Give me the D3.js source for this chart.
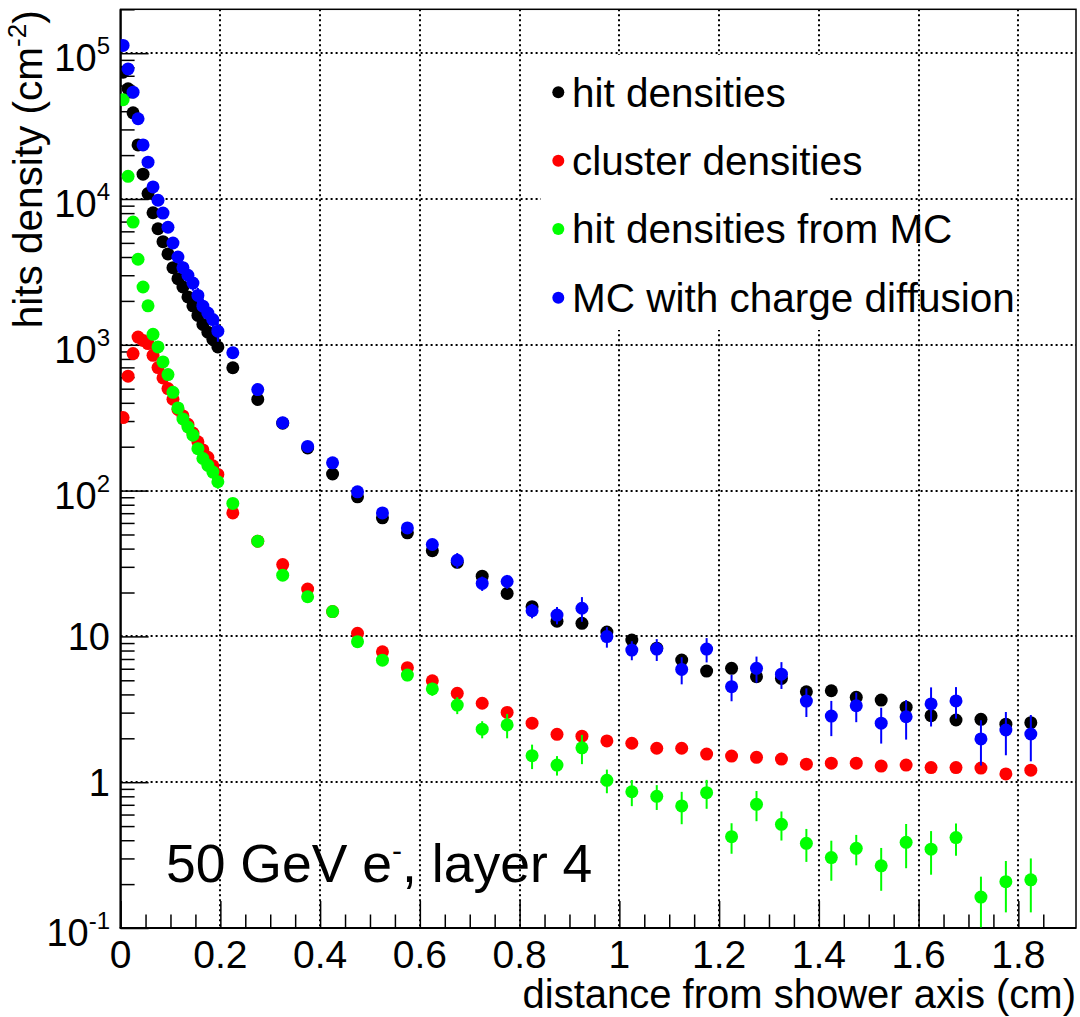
<!DOCTYPE html>
<html>
<head>
<meta charset="utf-8">
<script src="https://cdn.jsdelivr.net/npm/d3@7"></script>
<style>
  html, body { margin: 0; padding: 0; background: #fff; }
  svg text { font-family: "Liberation Sans", Arial, Helvetica, sans-serif; fill: #000; }
</style>
</head>
<body>
<svg id="chart" width="1080" height="1017"></svg>
<script>
// Bin centres (cm): 0.01 cm bins up to 0.2, then 0.05 cm bins
const binCenters = [
  0.005, 0.015, 0.025, 0.035, 0.045, 0.055, 0.065, 0.075, 0.085, 0.095,
  0.105, 0.115, 0.125, 0.135, 0.145, 0.155, 0.165, 0.175, 0.185, 0.195,
  0.225, 0.275, 0.325, 0.375, 0.425, 0.475, 0.525, 0.575, 0.625, 0.675,
  0.725, 0.775, 0.825, 0.875, 0.925, 0.975, 1.025, 1.075, 1.125, 1.175,
  1.225, 1.275, 1.325, 1.375, 1.425, 1.475, 1.525, 1.575, 1.625, 1.675,
  1.725, 1.775, 1.825
];

// hit densities (data)
const hitDensity = [
  74000, 57000, 39000, 23500, 14800, 10900, 8050, 6250, 5100, 4200,
  3380, 2840, 2490, 2130, 1850, 1590, 1380, 1220, 1090, 967,
  696, 422, 290, 196, 130, 90.6, 65, 51.3, 38.7, 32.2,
  25.9, 19.7, 16.0, 12.7, 12.3, 10.7, 9.45, 8.3, 6.89, 5.78,
  6.04, 5.29, 5.15, 4.17, 4.24, 3.82, 3.66, 3.27, 2.86, 2.67,
  2.70, 2.50, 2.56
];

// cluster densities (data)
const clusterDensity = [
  317, 609, 871, 1130, 1070, 1020, 847, 698, 593, 501,
  423, 360, 325, 285, 248, 216, 190, 169, 148, 129,
  70.3, 45, 31.1, 21.1, 14.8, 10.5, 7.84, 6.1, 4.96, 4.07,
  3.48, 3.01, 2.54, 2.13, 2.07, 1.92, 1.85, 1.71, 1.71, 1.56,
  1.51, 1.48, 1.44, 1.33, 1.35, 1.35, 1.29, 1.31, 1.26, 1.26,
  1.25, 1.14, 1.21
];

// hit densities from MC
const mcDensity = [
  48000, 14300, 6950, 3860, 2490, 1850, 1180, 967, 763, 625,
  472, 369, 310, 273, 240, 194, 166, 149, 134, 115,
  81.7, 45, 26.3, 18.7, 14.8, 9.2, 6.87, 5.43, 4.36, 3.38,
  2.31, 2.47, 1.52, 1.31, 1.72, 1.03, 0.86, 0.80, 0.687, 0.847,
  0.423, 0.705, 0.514, 0.381, 0.304, 0.352, 0.267, 0.387, 0.347, 0.417,
  0.163, 0.208, 0.214
];
const mcDensityErr = [
  600, 300, 200, 140, 110, 90, 70, 60, 50, 45,
  38, 32, 28, 25, 22, 19, 17, 15, 14, 12,
  4, 2.5, 1.8, 1.4, 1.2, 0.8, 0.6, 0.5, 0.45, 0.45,
  0.31, 0.47, 0.29, 0.2, 0.39, 0.19, 0.175, 0.155, 0.172, 0.19,
  0.1, 0.165, 0.116, 0.097, 0.093, 0.083, 0.087, 0.13, 0.115, 0.104,
  0.062, 0.08, 0.086
];

// MC with charge diffusion
const mcDiffDensity = [
  113000, 78000, 54000, 35500, 23500, 17900, 12100, 9800, 8000, 6400,
  4990, 4000, 3380, 3000, 2650, 2180, 1840, 1650, 1490, 1240,
  882, 493, 292, 201, 155, 98, 70.3, 55.5, 42.7, 33.3,
  23.1, 23.8, 15.0, 14.0, 15.6, 9.97, 8.06, 8.18, 5.94, 8.18,
  4.52, 6.04, 5.51, 3.6, 2.84, 3.35, 2.54, 2.81, 3.44, 3.61,
  1.98, 2.28, 2.14
];
const mcDiffDensityErr = [
  2500, 2000, 1600, 1300, 1000, 850, 700, 600, 550, 480,
  420, 380, 340, 320, 300, 270, 240, 220, 210, 190,
  15, 10, 8, 6, 5, 4, 3.5, 3, 3, 4,
  2.6, 2.6, 1.7, 1.9, 3.0, 1.6, 1.2, 1.4, 1.25, 1.55,
  0.93, 1.23, 1.15, 0.8, 0.77, 0.77, 0.7, 0.85, 1.03, 0.88,
  0.68, 0.75, 0.75
];

const seriesNames = ["hit densities", "cluster densities", "hit densities from MC", "MC with charge diffusion"];
const seriesColors = ["#000000", "#ff0000", "#00ff00", "#0000ff"];

const xMajorTicks = [0, 0.2, 0.4, 0.6, 0.8, 1.0, 1.2, 1.4, 1.6, 1.8];
const xTickLabels = ["0", "0.2", "0.4", "0.6", "0.8", "1", "1.2", "1.4", "1.6", "1.8"];
const yMajorTicks = [0.1, 1, 10, 100, 1000, 10000, 100000];
const yTickLabels = [["10", "-1"], ["1", ""], ["10", ""], ["10", "2"], ["10", "3"], ["10", "4"], ["10", "5"]];

// ---- layout ----
const frame = { left: 120.6, right: 1076, top: 9.3, bottom: 928 };
const svg = d3.select("#chart");

const x = d3.scaleLinear().domain([0, 1.9156]).range([frame.left, frame.right]);
const y = d3.scaleLog().domain([0.1, 2e5]).range([frame.bottom, frame.top]);

svg.append("defs").append("clipPath").attr("id", "plotClip")
  .append("rect")
  .attr("x", frame.left).attr("y", frame.top)
  .attr("width", frame.right - frame.left).attr("height", frame.bottom - frame.top);

// ---- dotted grid ----
const grid = svg.append("g").attr("stroke", "#000").attr("stroke-width", 2)
  .attr("stroke-dasharray", "2,3").attr("fill", "none");
grid.selectAll("line.gx").data(xMajorTicks.filter(d => d > 0)).join("line")
  .attr("x1", d => Math.round(x(d))).attr("x2", d => Math.round(x(d)))
  .attr("y1", frame.top).attr("y2", frame.bottom);
grid.selectAll("line.gy").data(yMajorTicks.filter(d => d > 0.1)).join("line")
  .attr("x1", frame.left).attr("x2", frame.right)
  .attr("y1", d => Math.round(y(d))).attr("y2", d => Math.round(y(d)));

// ---- legend background (covers the grid) ----
svg.append("rect").attr("x", 541).attr("y", 55).attr("width", 289).attr("height", 275).attr("fill", "#fff");

// ---- axes ticks (pointing inward) ----
const xMinor = d3.range(0, 1.9, 0.05).filter(v => Math.abs(v / 0.2 - Math.round(v / 0.2)) > 1e-6);
const xAxisMajor = d3.axisBottom(x).tickValues(xMajorTicks).tickSize(-27).tickFormat("");
const xAxisMinor = d3.axisBottom(x).tickValues(xMinor).tickSize(-13.5).tickFormat("");
const gx = svg.append("g").attr("transform", `translate(0,${frame.bottom})`);
gx.call(xAxisMinor);
gx.append("g").call(xAxisMajor);
gx.selectAll(".domain").remove();
gx.selectAll("line").attr("stroke", "#000").attr("stroke-width", 1.5);

const yMinor = [];
[0.1, 1, 10, 100, 1000, 10000, 100000].forEach(dec => {
  for (let k = 2; k <= 9; k++) { const v = dec * k; if (v <= 2e5) yMinor.push(v); }
});
const yAxisMajor = d3.axisLeft(y).tickValues(yMajorTicks).tickSize(-28).tickFormat("");
const yAxisMinor = d3.axisLeft(y).tickValues(yMinor).tickSize(-14).tickFormat("");
const gy = svg.append("g").attr("transform", `translate(${frame.left},0)`);
gy.call(yAxisMinor);
gy.append("g").call(yAxisMajor);
gy.selectAll(".domain").remove();
gy.selectAll("line").attr("stroke", "#000").attr("stroke-width", 1.5);

// ---- frame ----
svg.append("rect")
  .attr("x", frame.left).attr("y", frame.top)
  .attr("width", frame.right - frame.left).attr("height", frame.bottom - frame.top)
  .attr("fill", "none").attr("stroke", "#000").attr("stroke-width", 1.5);
svg.append("line").attr("x1", frame.left).attr("x2", frame.left).attr("y1", frame.top).attr("y2", frame.bottom)
  .attr("stroke", "#000").attr("stroke-width", 2.2);
svg.append("line").attr("x1", frame.left - 1).attr("x2", frame.right).attr("y1", frame.bottom).attr("y2", frame.bottom)
  .attr("stroke", "#000").attr("stroke-width", 2.2);

// ---- tick labels ----
svg.append("g").selectAll("text").data(xMajorTicks).join("text")
  .attr("x", d => x(d)).attr("y", 968)
  .attr("text-anchor", "middle").attr("font-size", 39)
  .text((d, i) => xTickLabels[i]);

const yl = svg.append("g").selectAll("text").data(yMajorTicks).join("text")
  .attr("x", 110)
  .attr("y", (d, i) => y(d) + (yTickLabels[i][1] ? 18 : 13.8))
  .attr("text-anchor", "end").attr("font-size", 38);
yl.append("tspan").text((d, i) => yTickLabels[i][0]);
yl.filter((d, i) => yTickLabels[i][1] !== "").append("tspan")
  .attr("font-size", 24).attr("dy", -17)
  .text(d => yTickLabels[yMajorTicks.indexOf(d)][1]);

// ---- axis titles ----
svg.append("text").attr("x", frame.right).attr("y", 1008)
  .attr("text-anchor", "end").attr("font-size", 40)
  .text("distance from shower axis (cm)");

const yTitle = svg.append("text")
  .attr("transform", `translate(42,${frame.top + 1}) rotate(-90)`)
  .attr("text-anchor", "end").attr("font-size", 40.5);
yTitle.append("tspan").text("hits density (cm");
yTitle.append("tspan").attr("font-size", 26).attr("dy", -16).text("-2");
yTitle.append("tspan").attr("dy", 16).text(")");

// ---- data points with error bars ----
const plot = svg.append("g").attr("clip-path", "url(#plotClip)");
const layers = [
  { vals: hitDensity, errs: null, color: seriesColors[0] },
  { vals: clusterDensity, errs: null, color: seriesColors[1] },
  { vals: mcDensity, errs: mcDensityErr, color: seriesColors[2] },
  { vals: mcDiffDensity, errs: mcDiffDensityErr, color: seriesColors[3] }
];
layers.forEach(layer => {
  const pts = binCenters.map((c, i) => ({ x: c, v: layer.vals[i], e: layer.errs ? layer.errs[i] : 0 }));
  const g = plot.append("g");
  g.selectAll("line").data(pts.filter(p => p.e > 0)).join("line")
    .attr("x1", p => x(p.x)).attr("x2", p => x(p.x))
    .attr("y1", p => y(p.v + p.e))
    .attr("y2", p => y(Math.max(p.v - p.e, 0.05)))
    .attr("stroke", layer.color).attr("stroke-width", 2);
  g.selectAll("circle").data(pts).join("circle")
    .attr("cx", p => x(p.x)).attr("cy", p => y(p.v)).attr("r", 6.5)
    .attr("fill", layer.color);
});

// ---- legend ----
const legend = svg.append("g");
const legendY = [92.3, 160.7, 229, 297.7];
seriesNames.forEach((name, i) => {
  legend.append("circle").attr("cx", 558.3).attr("cy", legendY[i]).attr("r", 6)
    .attr("fill", seriesColors[i]);
  legend.append("text").attr("x", 572).attr("y", legendY[i] + 14.4)
    .attr("font-size", 40.5).text(name);
});

// ---- annotation ----
const note = svg.append("text").attr("x", 166).attr("y", 881.7).attr("font-size", 53.5);
note.append("tspan").text("50 GeV e");
note.append("tspan").attr("font-size", 30).attr("dy", -21).text("-");
note.append("tspan").attr("dy", 21).text(", layer 4");
</script>
</body>
</html>
